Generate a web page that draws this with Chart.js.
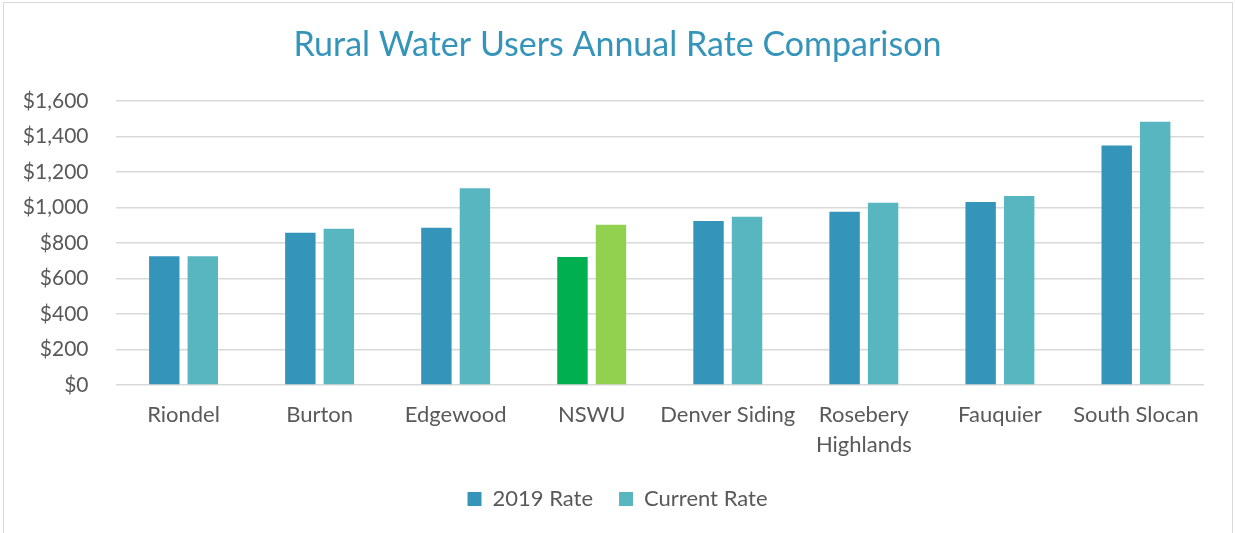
<!DOCTYPE html>
<html>
<head>
<meta charset="utf-8">
<script src="https://cdn.jsdelivr.net/npm/chart.js@4"></script>
<style>
  html, body { margin: 0; padding: 0; background: #fff; overflow: hidden; }
  #frame { position: absolute; left: 3px; top: 2px; width: 1228px; height: 600px; border: 1.5px solid #d9d9d9; }
  #wrap { position: absolute; left: 0; top: 0; width: 1235px; height: 533px; }
</style>
</head>
<body>
<div id="frame"></div>
<div id="wrap"><canvas id="chart"></canvas></div>
<script>
const categories = ['Riondel', 'Burton', 'Edgewood', 'NSWU', 'Denver Siding', ['Rosebery', 'Highlands'], 'Fauquier', 'South Slocan'];
const rate2019 = [725, 857, 885, 721, 923, 975, 1030, 1348];
const rateCurrent = [725, 880, 1107, 902, 947, 1026, 1064, 1482];
const yTicks = [0, 200, 400, 600, 800, 1000, 1200, 1400, 1600];

const colors2019 = ['#3494ba', '#3494ba', '#3494ba', '#00af50', '#3494ba', '#3494ba', '#3494ba', '#3494ba'];
const colorsCurrent = ['#58b6c0', '#58b6c0', '#58b6c0', '#92d050', '#58b6c0', '#58b6c0', '#58b6c0', '#58b6c0'];

const font = "Lato, 'Open Sans', sans-serif";

new Chart(document.getElementById('chart'), {
    type: 'bar',
    data: {
        labels: categories,
        datasets: [{
            label: '2019 Rate',
            data: rate2019,
            backgroundColor: ctx => ctx.dataIndex === undefined ? colors2019[0] : colors2019[ctx.dataIndex],
        }, {
            label: 'Current Rate',
            data: rateCurrent,
            backgroundColor: ctx => ctx.dataIndex === undefined ? colorsCurrent[0] : colorsCurrent[ctx.dataIndex],
        }],
    },
    options: {
        responsive: true,
        maintainAspectRatio: false,
        animation: false,
        categoryPercentage: 0.566,
        barPercentage: 0.79,
        layout: {
            padding: { left: 0, right: 0, top: 0, bottom: 13 },
        },
        plugins: {
            title: {
                display: true,
                text: 'Rural Water Users Annual Rate Comparison',
                color: '#3494ba',
                font: { family: font, size: 34, weight: 'normal', lineHeight: 1.2 },
                padding: { top: 25, bottom: 35 },
            },
            legend: {
                position: 'bottom',
                labels: {
                    color: '#595959',
                    font: { family: font, size: 22 },
                    boxWidth: 14,
                    boxHeight: 14,
                    padding: 26,
                },
            },
            tooltip: { enabled: false },
        },
        scales: {
            x: {
                grid: { display: false, drawTicks: false },
                border: { display: false },
                ticks: {
                    color: '#595959',
                    font: { family: font, size: 22, lineHeight: 1.36 },
                    padding: 15,
                    maxRotation: 0,
                    autoSkip: false,
                },
                afterFit: scale => { scale.height = 77; },
            },
            y: {
                min: 0,
                max: 1600,
                afterBuildTicks: scale => { scale.ticks = yTicks.map(v => ({ value: v })); },
                grid: { color: '#d9d9d9', lineWidth: 1.5, drawTicks: false },
                border: { display: false },
                ticks: {
                    color: '#595959',
                    font: { family: font, size: 21 },
                    padding: 27,
                    callback: v => '$' + v.toLocaleString('en-US'),
                },
                afterFit: scale => { scale.width = 115.5; },
            },
            // empty right-hand spacer, keeps the plot edge where it is while title and legend centre like the reference
            spacer: {
                type: 'linear',
                position: 'right',
                grid: { display: false, drawTicks: false },
                border: { display: false },
                ticks: { display: false },
                afterFit: scale => { scale.width = 31; },
            },
        },
    },
});
</script>
</body>
</html>
